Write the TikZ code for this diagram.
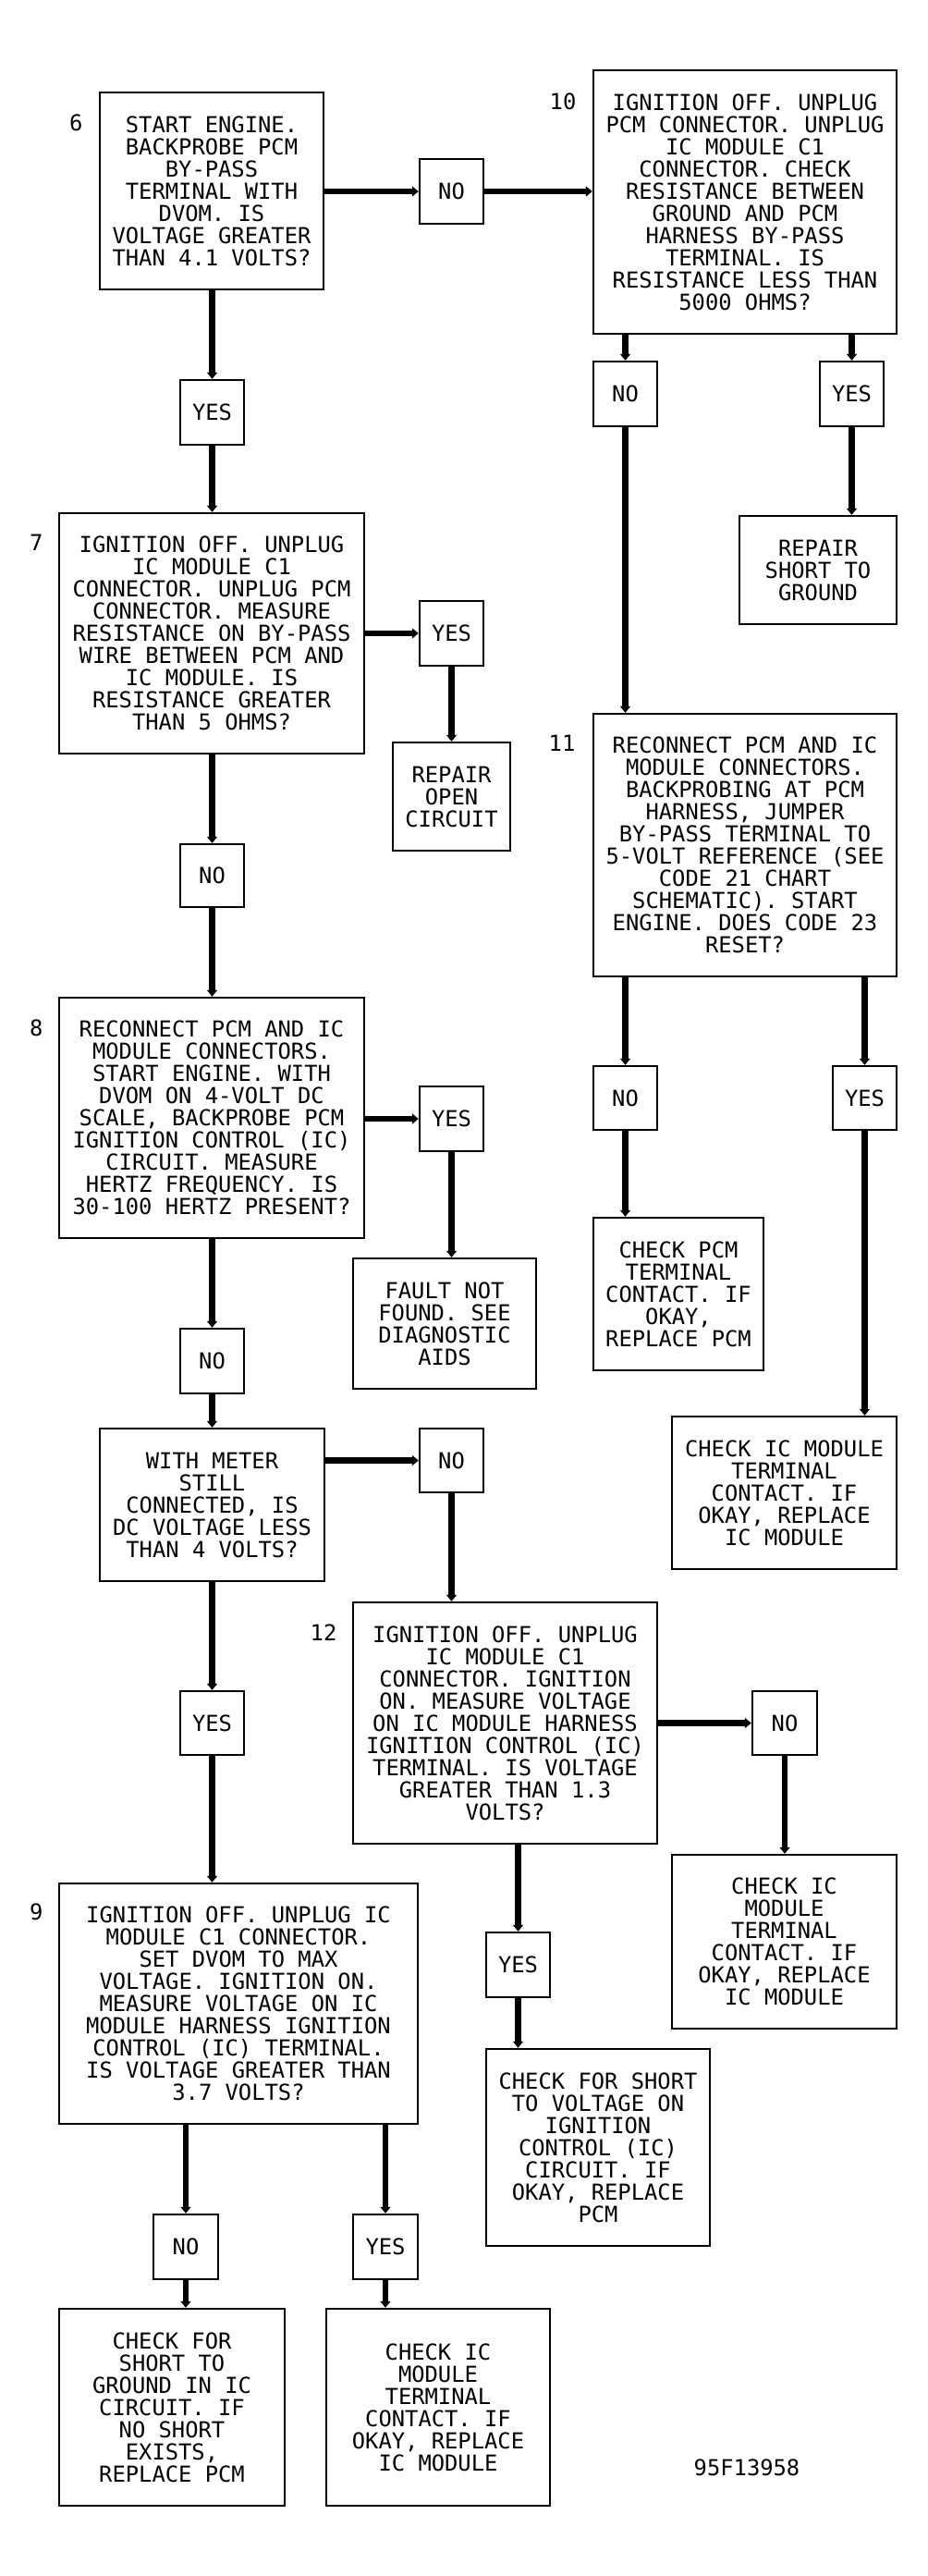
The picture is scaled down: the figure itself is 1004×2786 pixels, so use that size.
\documentclass[tikz,border=0pt]{standalone}
\usepackage{fontspec}
\newfontfamily\fcfont{DejaVu Sans Mono}
\usetikzlibrary{arrows.meta,calc}
\tikzset{
  fcbox/.style={draw, line width=1.2pt, inner sep=0pt, align=center, font=\fcfont\fontsize{11.9pt}{12pt}\selectfont},
  conn/.style={line width=3.4pt, -{Triangle[width=5.5pt,length=3.5pt]}},
  stepnum/.style={anchor=base east, inner sep=0pt, font=\fcfont\fontsize{11.9pt}{12pt}\selectfont},
}
\newcommand\fcnode[6]{\node[fcbox, minimum width={(#4-#2)*0.5pt}, minimum height={(#5-#3)*0.5pt}] (#1) at ({(#2+#4)/2},{(#3+#5)/2}) {#6};}
\begin{document}
\begin{tikzpicture}[x=0.5pt,y=-0.5pt]
\useasboundingbox (0,0) rectangle (1004,2786);
% main boxes
\fcnode{b6}{108}{100}{350}{313}{START ENGINE.\\BACKPROBE PCM\\BY-PASS\\TERMINAL WITH\\DVOM. IS\\VOLTAGE GREATER\\THAN 4.1 VOLTS?}
\fcnode{b10}{642}{76}{970}{361}{IGNITION OFF. UNPLUG\\PCM CONNECTOR. UNPLUG\\IC MODULE C1\\CONNECTOR. CHECK\\RESISTANCE BETWEEN\\GROUND AND PCM\\HARNESS BY-PASS\\TERMINAL. IS\\RESISTANCE LESS THAN\\5000 OHMS?}
\fcnode{b7}{64}{555}{394}{815}{IGNITION OFF. UNPLUG\\IC MODULE C1\\CONNECTOR. UNPLUG PCM\\CONNECTOR. MEASURE\\RESISTANCE ON BY-PASS\\WIRE BETWEEN PCM AND\\IC MODULE. IS\\RESISTANCE GREATER\\THAN 5 OHMS?}
\fcnode{b8}{64}{1079}{394}{1339}{RECONNECT PCM AND IC\\MODULE CONNECTORS.\\START ENGINE. WITH\\DVOM ON 4-VOLT DC\\SCALE, BACKPROBE PCM\\IGNITION CONTROL (IC)\\CIRCUIT. MEASURE\\HERTZ FREQUENCY. IS\\30-100 HERTZ PRESENT?}
\fcnode{b11}{642}{772}{970}{1056}{RECONNECT PCM AND IC\\MODULE CONNECTORS.\\BACKPROBING AT PCM\\HARNESS, JUMPER\\BY-PASS TERMINAL TO\\5-VOLT REFERENCE (SEE\\CODE 21 CHART\\SCHEMATIC). START\\ENGINE. DOES CODE 23\\RESET?}
\fcnode{meter}{108}{1545}{351}{1710}{WITH METER\\STILL\\CONNECTED, IS\\DC VOLTAGE LESS\\THAN 4 VOLTS?}
\fcnode{b12}{382}{1733}{711}{1994}{IGNITION OFF. UNPLUG\\IC MODULE C1\\CONNECTOR. IGNITION\\ON. MEASURE VOLTAGE\\ON IC MODULE HARNESS\\IGNITION CONTROL (IC)\\TERMINAL. IS VOLTAGE\\GREATER THAN 1.3\\VOLTS?}
\fcnode{b9}{64}{2037}{452}{2297}{IGNITION OFF. UNPLUG IC\\MODULE C1 CONNECTOR.\\SET DVOM TO MAX\\VOLTAGE. IGNITION ON.\\MEASURE VOLTAGE ON IC\\MODULE HARNESS IGNITION\\CONTROL (IC) TERMINAL.\\IS VOLTAGE GREATER THAN\\3.7 VOLTS?}
% result boxes
\fcnode{rshort}{800}{558}{970}{675}{REPAIR\\SHORT TO\\GROUND}
\fcnode{ropen}{425}{803}{552}{920}{REPAIR\\OPEN\\CIRCUIT}
\fcnode{fault}{382}{1361}{580}{1502}{FAULT NOT\\FOUND. SEE\\DIAGNOSTIC\\AIDS}
\fcnode{pcm}{642}{1317}{826}{1482}{CHECK PCM\\TERMINAL\\CONTACT. IF\\OKAY,\\REPLACE PCM}
\fcnode{ic1}{727}{1532}{970}{1697}{CHECK IC MODULE\\TERMINAL\\CONTACT. IF\\OKAY, REPLACE\\IC MODULE}
\fcnode{ic2}{727}{2006}{970}{2194}{CHECK IC\\MODULE\\TERMINAL\\CONTACT. IF\\OKAY, REPLACE\\IC MODULE}
\fcnode{shortv}{526}{2216}{768}{2429}{CHECK FOR SHORT\\TO VOLTAGE ON\\IGNITION\\CONTROL (IC)\\CIRCUIT. IF\\OKAY, REPLACE\\PCM}
\fcnode{shortg}{64}{2497}{308}{2710}{CHECK FOR\\SHORT TO\\GROUND IN IC\\CIRCUIT. IF\\NO SHORT\\EXISTS,\\REPLACE PCM}
\fcnode{ic3}{353}{2497}{595}{2710}{CHECK IC\\MODULE\\TERMINAL\\CONTACT. IF\\OKAY, REPLACE\\IC MODULE}
% yes / no boxes
\fcnode{no6}{454}{172}{523}{242}{NO}
\fcnode{yes6}{195}{411}{264}{481}{YES}
\fcnode{yes7}{454}{650}{523}{720}{YES}
\fcnode{no10}{642}{391}{711}{461}{NO}
\fcnode{yes10}{887}{391}{956}{461}{YES}
\fcnode{no7}{195}{913}{264}{981}{NO}
\fcnode{yes8}{454}{1175}{523}{1245}{YES}
\fcnode{no11}{642}{1153}{711}{1222}{NO}
\fcnode{yes11}{901}{1153}{970}{1222}{YES}
\fcnode{no8}{195}{1437}{264}{1507}{NO}
\fcnode{nom}{454}{1545}{523}{1614}{NO}
\fcnode{no12}{814}{1829}{884}{1898}{NO}
\fcnode{yesm}{195}{1829}{264}{1898}{YES}
\fcnode{yes12}{526}{2090}{595}{2160}{YES}
\fcnode{no9}{166}{2395}{236}{2465}{NO}
\fcnode{yes9}{382}{2395}{452}{2465}{YES}
% step numbers
\node[stepnum] (n6) at ($(b6.north west)+(-17,43)$) {6};
\node[stepnum] (n10) at ($(b10.north west)+(-17,44)$) {10};
\node[stepnum] (n7) at ($(b7.north west)+(-16,42)$) {7};
\node[stepnum] (n11) at ($(b11.north west)+(-18,42)$) {11};
\node[stepnum] (n8) at ($(b8.north west)+(-16,43)$) {8};
\node[stepnum] (n12) at ($(b12.north west)+(-16,43)$) {12};
\node[stepnum] (n9) at ($(b9.north west)+(-16,41)$) {9};
\node[anchor=base, inner sep=0pt, font=\fcfont\fontsize{11.9pt}{12pt}\selectfont] (code) at (808,2677) {95F13958};
% connectors
\draw[conn] (no6.west -| b6.east) -- (no6.west);
\draw[conn] (no6.east) -- (no6.east -| b10.west);
\draw[conn] (yes6.north |- b6.south) -- (yes6.north);
\draw[conn] (yes6.south) -- (yes6.south |- b7.north);
\draw[conn] (yes7.west -| b7.east) -- (yes7.west);
\draw[conn] (yes7.south) -- (yes7.south |- ropen.north);
\draw[conn] (no7.north |- b7.south) -- (no7.north);
\draw[conn] (no7.south) -- (no7.south |- b8.north);
\draw[conn] (yes8.west -| b8.east) -- (yes8.west);
\draw[conn] (yes8.south) -- (yes8.south |- fault.north);
\draw[conn] (no8.north |- b8.south) -- (no8.north);
\draw[conn] (no8.south) -- (no8.south |- meter.north);
\draw[conn] (nom.west -| meter.east) -- (nom.west);
\draw[conn] (nom.south) -- (nom.south |- b12.north);
\draw[conn] (yesm.north |- meter.south) -- (yesm.north);
\draw[conn] (yesm.south) -- (yesm.south |- b9.north);
\draw[conn] (no12.west -| b12.east) -- (no12.west);
\draw[conn] (no12.south) -- (no12.south |- ic2.north);
\draw[conn] (yes12.north |- b12.south) -- (yes12.north);
\draw[conn] (yes12.south) -- (yes12.south |- shortv.north);
\draw[conn] (no10.north |- b10.south) -- (no10.north);
\draw[conn] (no10.south) -- (no10.south |- b11.north);
\draw[conn] (yes10.north |- b10.south) -- (yes10.north);
\draw[conn] (yes10.south) -- (yes10.south |- rshort.north);
\draw[conn] (no11.north |- b11.south) -- (no11.north);
\draw[conn] (no11.south) -- (no11.south |- pcm.north);
\draw[conn] (yes11.north |- b11.south) -- (yes11.north);
\draw[conn] (yes11.south) -- (yes11.south |- ic1.north);
\draw[conn] (no9.north |- b9.south) -- (no9.north);
\draw[conn] (no9.south) -- (no9.south |- shortg.north);
\draw[conn] (yes9.north |- b9.south) -- (yes9.north);
\draw[conn] (yes9.south) -- (yes9.south |- ic3.north);
\end{tikzpicture}
\end{document}
